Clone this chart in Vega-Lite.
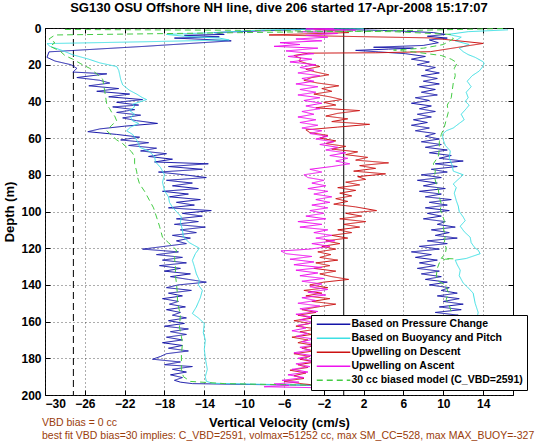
{
"$schema": "https://vega.github.io/schema/vega-lite/v6.json",
"width": 468, "height": 367,
"autosize": {"type": "none"},
"padding": {"left": 45, "top": 28, "right": 47, "bottom": 47},
"background": "white",
"config": {
  "font": "Liberation Sans",
  "view": {"stroke": "black", "strokeWidth": 1},
  "axis": {"labelFont": "Liberation Sans", "labelFontWeight": "bold", "labelFontSize": 12, "labelColor": "black", "titleFont": "Liberation Sans", "titleFontWeight": "bold", "titleFontSize": 13, "titleColor": "black", "tickColor": "black", "domain": false, "labelOverlap": false}
},
"resolve": {"axis": {"x": "independent", "y": "independent"}},
"title": {"text": "SG130 OSU Offshore NH line, dive 206 started 17-Apr-2008 15:17:07", "font": "Liberation Sans", "fontSize": 13, "fontWeight": "bold", "color": "black", "anchor": "middle", "offset": 7},
"datasets": {"v": [
{"s":"P","d":0.5,"x":-3},{"s":"P","d":1.5,"x":-8},{"s":"P","d":2.5,"x":-13},{"s":"P","d":3.5,"x":-12},{"s":"P","d":4,"x":-16},{"s":"P","d":4.8,"x":-12.5},{"s":"P","d":5.5,"x":-17},{"s":"P","d":6.2,"x":-14},{"s":"P","d":7,"x":-11.3},{"s":"P","d":10,"x":-20},{"s":"P","d":13,"x":-29.6},{"s":"P","d":16,"x":-29.8},{"s":"P","d":18,"x":-29},{"s":"P","d":20,"x":-27.4},{"s":"P","d":22,"x":-26.8},{"s":"P","d":24,"x":-27.2},{"s":"P","d":25,"x":-23.8},{"s":"P","d":27,"x":-26.8},{"s":"P","d":28.5,"x":-24.5},{"s":"P","d":30,"x":-23.5},{"s":"P","d":31.5,"x":-25.6},{"s":"P","d":33,"x":-22.6},{"s":"P","d":34.5,"x":-24.8},{"s":"P","d":36,"x":-21.5},{"s":"P","d":37.5,"x":-23.6},{"s":"P","d":39,"x":-20.2},{"s":"P","d":40.5,"x":-22.8},{"s":"P","d":42,"x":-20.6},{"s":"P","d":43,"x":-23.2},{"s":"P","d":44.5,"x":-21},{"s":"P","d":46,"x":-22.8},{"s":"P","d":47.5,"x":-20.4},{"s":"P","d":49,"x":-22.2},{"s":"P","d":50.5,"x":-20.8},{"s":"P","d":52,"x":-18.7},{"s":"P","d":53.5,"x":-22},{"s":"P","d":55,"x":-24.5},{"s":"P","d":56.5,"x":-25.7},{"s":"P","d":58,"x":-22.8},{"s":"P","d":59.5,"x":-20.5},{"s":"P","d":61,"x":-22.4},{"s":"P","d":62.5,"x":-19.6},{"s":"P","d":64,"x":-21.6},{"s":"P","d":65.5,"x":-18.8},{"s":"P","d":67,"x":-20.4},{"s":"P","d":68.5,"x":-17.8},{"s":"P","d":70,"x":-19.6},{"s":"P","d":71.5,"x":-17.2},{"s":"P","d":73,"x":-19},{"s":"P","d":74,"x":-13.6},{"s":"P","d":75.5,"x":-17.6},{"s":"P","d":77,"x":-14.2},{"s":"P","d":78.5,"x":-18.6},{"s":"P","d":80,"x":-16},{"s":"P","d":81.5,"x":-13.8},{"s":"P","d":83,"x":-17.8},{"s":"P","d":84.5,"x":-15.2},{"s":"P","d":86,"x":-17.2},{"s":"P","d":87.5,"x":-14.6},{"s":"P","d":89,"x":-18.2},{"s":"P","d":90.5,"x":-15.6},{"s":"P","d":92,"x":-17.5},{"s":"P","d":93.5,"x":-14.4},{"s":"P","d":95,"x":-16.8},{"s":"P","d":96.5,"x":-15},{"s":"P","d":98,"x":-17.6},{"s":"P","d":99.5,"x":-13.3},{"s":"P","d":101,"x":-16.2},{"s":"P","d":102.5,"x":-14.2},{"s":"P","d":104,"x":-16.8},{"s":"P","d":105.5,"x":-14.6},{"s":"P","d":107,"x":-17},{"s":"P","d":108.5,"x":-13.9},{"s":"P","d":110,"x":-16.4},{"s":"P","d":111.5,"x":-14.8},{"s":"P","d":113,"x":-17.2},{"s":"P","d":114.5,"x":-15.4},{"s":"P","d":116,"x":-16.8},{"s":"P","d":117.5,"x":-15.8},{"s":"P","d":119,"x":-18},{"s":"P","d":120.5,"x":-20.2},{"s":"P","d":122,"x":-16.6},{"s":"P","d":123.5,"x":-18.8},{"s":"P","d":125,"x":-16.2},{"s":"P","d":126.5,"x":-18.2},{"s":"P","d":128,"x":-15.8},{"s":"P","d":129.5,"x":-18.5},{"s":"P","d":131,"x":-16.4},{"s":"P","d":132.5,"x":-18},{"s":"P","d":134,"x":-15.4},{"s":"P","d":135.5,"x":-17.4},{"s":"P","d":137,"x":-15.6},{"s":"P","d":138.5,"x":-13.8},{"s":"P","d":140,"x":-16.6},{"s":"P","d":141.5,"x":-17.8},{"s":"P","d":143,"x":-15.3},{"s":"P","d":144.5,"x":-17.6},{"s":"P","d":146,"x":-16.2},{"s":"P","d":147.5,"x":-18.2},{"s":"P","d":149,"x":-16.6},{"s":"P","d":150.5,"x":-17.5},{"s":"P","d":152,"x":-15.9},{"s":"P","d":153.5,"x":-17.8},{"s":"P","d":155,"x":-16.4},{"s":"P","d":156.5,"x":-17.2},{"s":"P","d":158,"x":-15.8},{"s":"P","d":159.5,"x":-17.6},{"s":"P","d":161,"x":-16},{"s":"P","d":162.5,"x":-18},{"s":"P","d":164,"x":-15.6},{"s":"P","d":165.5,"x":-17.4},{"s":"P","d":167,"x":-15.8},{"s":"P","d":168.5,"x":-17.8},{"s":"P","d":170,"x":-16.2},{"s":"P","d":171.5,"x":-18.2},{"s":"P","d":173,"x":-16.2},{"s":"P","d":174.5,"x":-17.6},{"s":"P","d":176,"x":-15.6},{"s":"P","d":177.5,"x":-17.8},{"s":"P","d":179,"x":-18.4},{"s":"P","d":180.5,"x":-19.2},{"s":"P","d":182,"x":-16.4},{"s":"P","d":183.5,"x":-18},{"s":"P","d":184.5,"x":-15.2},{"s":"P","d":186,"x":-17.2},{"s":"P","d":187.5,"x":-15.8},{"s":"P","d":189,"x":-17.4},{"s":"P","d":190.5,"x":-16.2},{"s":"P","d":192,"x":-17},{"s":"P","d":193,"x":-16.4},{"s":"P","d":193.8,"x":-15.2},{"s":"P","d":194.3,"x":-9},{"s":"P","d":194.6,"x":-4},{"s":"P","d":195,"x":0},
{"s":"P","d":194,"x":6},{"s":"P","d":192,"x":9.5},{"s":"P","d":185,"x":10},{"s":"P","d":175,"x":9.8},{"s":"P","d":165,"x":10.2},{"s":"P","d":158,"x":9.6},{"s":"P","d":156.5,"x":11.5},{"s":"P","d":155,"x":9.2},{"s":"P","d":153.5,"x":11.8},{"s":"P","d":152,"x":9.6},{"s":"P","d":150.5,"x":12},{"s":"P","d":149,"x":10},{"s":"P","d":147.5,"x":11.6},{"s":"P","d":146,"x":9.4},{"s":"P","d":144.5,"x":11.4},{"s":"P","d":143,"x":9.8},{"s":"P","d":141.5,"x":10.6},{"s":"P","d":140,"x":8.6},{"s":"P","d":138.5,"x":10.4},{"s":"P","d":137,"x":8.2},{"s":"P","d":135.5,"x":9.8},{"s":"P","d":134,"x":7.8},{"s":"P","d":132.5,"x":9.6},{"s":"P","d":131,"x":7.4},{"s":"P","d":129.5,"x":9.2},{"s":"P","d":128,"x":7.6},{"s":"P","d":126.5,"x":9.4},{"s":"P","d":125,"x":7.2},{"s":"P","d":123.5,"x":8.8},{"s":"P","d":122,"x":6.8},{"s":"P","d":120.5,"x":9.6},{"s":"P","d":119,"x":7.6},{"s":"P","d":117.5,"x":10.4},{"s":"P","d":116,"x":8.4},{"s":"P","d":114.5,"x":11.4},{"s":"P","d":113,"x":9.2},{"s":"P","d":111.5,"x":10.6},{"s":"P","d":110,"x":8.8},{"s":"P","d":108.5,"x":11.2},{"s":"P","d":107,"x":9.4},{"s":"P","d":105.5,"x":10.2},{"s":"P","d":104,"x":8},{"s":"P","d":102.5,"x":9.8},{"s":"P","d":101,"x":8.4},{"s":"P","d":99.5,"x":10.6},{"s":"P","d":98,"x":8.2},{"s":"P","d":96.5,"x":10.4},{"s":"P","d":95,"x":8.6},{"s":"P","d":93.5,"x":10.8},{"s":"P","d":92,"x":8.2},{"s":"P","d":90.5,"x":9.8},{"s":"P","d":89,"x":7.6},{"s":"P","d":87.5,"x":10.2},{"s":"P","d":86,"x":8},{"s":"P","d":84.5,"x":9.4},{"s":"P","d":83,"x":7.4},{"s":"P","d":81.5,"x":9.8},{"s":"P","d":80,"x":7.8},{"s":"P","d":78.5,"x":10.4},{"s":"P","d":77,"x":8.8},{"s":"P","d":75.5,"x":11.4},{"s":"P","d":74,"x":9.2},{"s":"P","d":72.5,"x":12},{"s":"P","d":71,"x":9.6},{"s":"P","d":69.5,"x":10.8},{"s":"P","d":68,"x":8.6},{"s":"P","d":66.5,"x":10.4},{"s":"P","d":65,"x":8.2},{"s":"P","d":63.5,"x":9.8},{"s":"P","d":62,"x":7.8},{"s":"P","d":60.5,"x":9.6},{"s":"P","d":59,"x":8.2},{"s":"P","d":57.5,"x":9.2},{"s":"P","d":56,"x":7.2},{"s":"P","d":54.5,"x":8.6},{"s":"P","d":53,"x":6.8},{"s":"P","d":51.5,"x":8.4},{"s":"P","d":50,"x":7},{"s":"P","d":48.5,"x":8.8},{"s":"P","d":47,"x":7.4},{"s":"P","d":45.5,"x":9.2},{"s":"P","d":44,"x":7.6},{"s":"P","d":42.5,"x":8.8},{"s":"P","d":41,"x":6.8},{"s":"P","d":39.5,"x":8.6},{"s":"P","d":38,"x":7.2},{"s":"P","d":36.5,"x":9.4},{"s":"P","d":35,"x":7.8},{"s":"P","d":33.5,"x":9.2},{"s":"P","d":32,"x":7.6},{"s":"P","d":30.5,"x":9.6},{"s":"P","d":29,"x":8},{"s":"P","d":27.5,"x":9.4},{"s":"P","d":26,"x":7.8},{"s":"P","d":24.5,"x":9.6},{"s":"P","d":23,"x":8.2},{"s":"P","d":21.5,"x":9.2},{"s":"P","d":20,"x":7.4},{"s":"P","d":18.5,"x":8.6},{"s":"P","d":17,"x":6.8},{"s":"P","d":15.5,"x":8.2},{"s":"P","d":14,"x":6.2},{"s":"P","d":13,"x":3.5},{"s":"P","d":12.2,"x":1.2},{"s":"P","d":11.5,"x":4.5},{"s":"P","d":11,"x":7},{"s":"P","d":10.5,"x":3},{"s":"P","d":9.5,"x":8},{"s":"P","d":8,"x":9.5},{"s":"P","d":6.5,"x":8.6},{"s":"P","d":5.5,"x":10.4},{"s":"P","d":4.5,"x":8.4},{"s":"P","d":3.5,"x":10.2},{"s":"P","d":2.5,"x":9},{"s":"P","d":1.5,"x":5},{"s":"P","d":0.8,"x":0},{"s":"P","d":0.3,"x":-3},
{"s":"B","d":0.3,"x":2},{"s":"B","d":1,"x":-8},{"s":"B","d":2.5,"x":-13},{"s":"B","d":3.5,"x":-17.8},{"s":"B","d":4.5,"x":-16},{"s":"B","d":5.5,"x":-12.5},{"s":"B","d":6.5,"x":-11.5},{"s":"B","d":7.5,"x":-20},{"s":"B","d":8.5,"x":-29.8},{"s":"B","d":10,"x":-29.5},{"s":"B","d":12,"x":-28.4},{"s":"B","d":14.6,"x":-27.2},{"s":"B","d":17,"x":-25.6},{"s":"B","d":19,"x":-24.5},{"s":"B","d":21,"x":-22.8},{"s":"B","d":23,"x":-22.6},{"s":"B","d":25.4,"x":-22.5},{"s":"B","d":28,"x":-22.4},{"s":"B","d":31,"x":-22.2},{"s":"B","d":34,"x":-21.5},{"s":"B","d":36,"x":-20.8},{"s":"B","d":38,"x":-20.2},{"s":"B","d":39,"x":-19.8},{"s":"B","d":40.5,"x":-20.6},{"s":"B","d":41.6,"x":-21.2},{"s":"B","d":43,"x":-21},{"s":"B","d":45,"x":-21.5},{"s":"B","d":47,"x":-21},{"s":"B","d":48.5,"x":-21.4},{"s":"B","d":50.6,"x":-21.2},{"s":"B","d":52,"x":-20.6},{"s":"B","d":54,"x":-21.4},{"s":"B","d":56,"x":-21.8},{"s":"B","d":58,"x":-21.2},{"s":"B","d":61,"x":-20.8},{"s":"B","d":63,"x":-20.6},{"s":"B","d":65,"x":-20.5},{"s":"B","d":67,"x":-19.6},{"s":"B","d":70,"x":-19},{"s":"B","d":73,"x":-18.9},{"s":"B","d":76,"x":-18.4},{"s":"B","d":80,"x":-18},{"s":"B","d":84,"x":-18.2},{"s":"B","d":88.7,"x":-18},{"s":"B","d":92,"x":-17.6},{"s":"B","d":95,"x":-17.5},{"s":"B","d":97.7,"x":-17.2},{"s":"B","d":100,"x":-16.8},{"s":"B","d":103,"x":-16.3},{"s":"B","d":106,"x":-16.4},{"s":"B","d":110,"x":-16.2},{"s":"B","d":114,"x":-16.1},{"s":"B","d":117,"x":-15.5},{"s":"B","d":120,"x":-14.5},{"s":"B","d":123,"x":-14.9},{"s":"B","d":126.6,"x":-15.2},{"s":"B","d":130,"x":-15},{"s":"B","d":134,"x":-14.8},{"s":"B","d":137.5,"x":-14.5},{"s":"B","d":140,"x":-14.6},{"s":"B","d":143,"x":-14.2},{"s":"B","d":147,"x":-14.4},{"s":"B","d":152,"x":-14.8},{"s":"B","d":155.6,"x":-15.2},{"s":"B","d":158,"x":-14.6},{"s":"B","d":161,"x":-14},{"s":"B","d":166,"x":-14.1},{"s":"B","d":170,"x":-13.9},{"s":"B","d":175,"x":-14},{"s":"B","d":180,"x":-13.9},{"s":"B","d":186,"x":-13.7},{"s":"B","d":190,"x":-13.9},{"s":"B","d":192.5,"x":-13.8},{"s":"B","d":193.6,"x":-13.2},{"s":"B","d":194.2,"x":-8},{"s":"B","d":194.6,"x":-2},{"s":"B","d":195,"x":4},
{"s":"B","d":194,"x":9},{"s":"B","d":192,"x":12.5},{"s":"B","d":185,"x":12.8},{"s":"B","d":175,"x":13.2},{"s":"B","d":165,"x":13},{"s":"B","d":158,"x":13.4},{"s":"B","d":155,"x":13.5},{"s":"B","d":150,"x":13.2},{"s":"B","d":144.5,"x":13},{"s":"B","d":141,"x":12.4},{"s":"B","d":139,"x":12},{"s":"B","d":135,"x":11.6},{"s":"B","d":132,"x":11.7},{"s":"B","d":129,"x":11.4},{"s":"B","d":126.5,"x":11.2},{"s":"B","d":125.6,"x":12.3},{"s":"B","d":123,"x":13.7},{"s":"B","d":121,"x":13.5},{"s":"B","d":120,"x":13.2},{"s":"B","d":117,"x":12.8},{"s":"B","d":114,"x":12.7},{"s":"B","d":111,"x":12.1},{"s":"B","d":108,"x":11.7},{"s":"B","d":105,"x":12.2},{"s":"B","d":103,"x":12},{"s":"B","d":100,"x":11.6},{"s":"B","d":97,"x":11.5},{"s":"B","d":94,"x":11.3},{"s":"B","d":90,"x":11.1},{"s":"B","d":87,"x":11.3},{"s":"B","d":85,"x":11},{"s":"B","d":82,"x":11.6},{"s":"B","d":80,"x":12},{"s":"B","d":78,"x":11},{"s":"B","d":75,"x":10.9},{"s":"B","d":71,"x":10.6},{"s":"B","d":67,"x":10.7},{"s":"B","d":64,"x":10.2},{"s":"B","d":61,"x":10},{"s":"B","d":58,"x":9.9},{"s":"B","d":56,"x":10.3},{"s":"B","d":54.5,"x":11},{"s":"B","d":52,"x":11.6},{"s":"B","d":50,"x":12.1},{"s":"B","d":47,"x":11.8},{"s":"B","d":44,"x":12.3},{"s":"B","d":42,"x":12.6},{"s":"B","d":40,"x":12.2},{"s":"B","d":38,"x":12.5},{"s":"B","d":35,"x":12.3},{"s":"B","d":32,"x":12.8},{"s":"B","d":29,"x":12.4},{"s":"B","d":26,"x":12.9},{"s":"B","d":23.5,"x":13.6},{"s":"B","d":21.5,"x":13.9},{"s":"B","d":19.3,"x":14.1},{"s":"B","d":18.4,"x":14},{"s":"B","d":16,"x":13.2},{"s":"B","d":14.5,"x":12.5},{"s":"B","d":12.9,"x":12},{"s":"B","d":11,"x":11.6},{"s":"B","d":9,"x":12.6},{"s":"B","d":7,"x":11.2},{"s":"B","d":5,"x":11.8},{"s":"B","d":3.5,"x":10.5},{"s":"B","d":2,"x":12.5},{"s":"B","d":1,"x":16.5},
{"s":"D","d":0.5,"x":-3},{"s":"D","d":1.5,"x":-1},{"s":"D","d":2.5,"x":0.5},{"s":"D","d":3.8,"x":-7.5},{"s":"D","d":5.4,"x":8.7},{"s":"D","d":8.4,"x":14},{"s":"D","d":12.9,"x":8.7},{"s":"D","d":13.5,"x":3.2},{"s":"D","d":13.7,"x":-3.5},{"s":"D","d":15,"x":-5},{"s":"D","d":16.5,"x":-4.3},{"s":"D","d":18,"x":-4.5},{"s":"D","d":19.5,"x":-3.6},{"s":"D","d":21,"x":-2.4},{"s":"D","d":22.5,"x":-3.8},{"s":"D","d":24,"x":-2.8},{"s":"D","d":25.5,"x":-1.5},{"s":"D","d":27,"x":-3.2},{"s":"D","d":28.5,"x":-4},{"s":"D","d":30,"x":-2.6},{"s":"D","d":31.5,"x":-0.5},{"s":"D","d":33,"x":-2.2},{"s":"D","d":34.5,"x":-1.2},{"s":"D","d":36,"x":-3},{"s":"D","d":37.5,"x":-1.4},{"s":"D","d":39,"x":-0.2},{"s":"D","d":40.5,"x":-2},{"s":"D","d":42,"x":-0.8},{"s":"D","d":43.5,"x":-2.8},{"s":"D","d":45,"x":1.6},{"s":"D","d":46.5,"x":-0.6},{"s":"D","d":48,"x":-1.8},{"s":"D","d":49.5,"x":0.4},{"s":"D","d":51,"x":-1.2},{"s":"D","d":52.5,"x":2.6},{"s":"D","d":54,"x":-0.6},{"s":"D","d":55.5,"x":-3.8},{"s":"D","d":57,"x":-3.4},{"s":"D","d":58.5,"x":-1.6},{"s":"D","d":60,"x":-2.4},{"s":"D","d":61.5,"x":-0.8},{"s":"D","d":63,"x":-1.8},{"s":"D","d":64.5,"x":0.2},{"s":"D","d":66,"x":-1.2},{"s":"D","d":67.5,"x":1.4},{"s":"D","d":69,"x":0.2},{"s":"D","d":70.5,"x":2.4},{"s":"D","d":72,"x":1.2},{"s":"D","d":73.5,"x":4.5},{"s":"D","d":75,"x":1.6},{"s":"D","d":76.5,"x":3.2},{"s":"D","d":78,"x":1},{"s":"D","d":79.5,"x":4.2},{"s":"D","d":81,"x":1.4},{"s":"D","d":82.5,"x":2.2},{"s":"D","d":84,"x":0.2},{"s":"D","d":85.5,"x":1.6},{"s":"D","d":87,"x":-0.6},{"s":"D","d":88.5,"x":1.2},{"s":"D","d":90,"x":-0.4},{"s":"D","d":91.5,"x":0.8},{"s":"D","d":93,"x":-0.8},{"s":"D","d":94.5,"x":0.4},{"s":"D","d":96,"x":-1},{"s":"D","d":97.5,"x":1.2},{"s":"D","d":99.5,"x":3.3},{"s":"D","d":101,"x":0.2},{"s":"D","d":102.5,"x":1.8},{"s":"D","d":104,"x":-0.4},{"s":"D","d":105.5,"x":2.2},{"s":"D","d":107,"x":0},{"s":"D","d":108.5,"x":1.6},{"s":"D","d":110,"x":-0.6},{"s":"D","d":111.5,"x":0.8},{"s":"D","d":113,"x":-1.2},{"s":"D","d":114.5,"x":0.4},{"s":"D","d":116,"x":-1.8},{"s":"D","d":117.5,"x":-0.4},{"s":"D","d":119,"x":-2.2},{"s":"D","d":120.5,"x":-0.8},{"s":"D","d":122,"x":-2.6},{"s":"D","d":123.5,"x":-1.3},{"s":"D","d":125,"x":-2.4},{"s":"D","d":126.5,"x":-0.6},{"s":"D","d":128,"x":-2.8},{"s":"D","d":129.5,"x":-1.4},{"s":"D","d":131,"x":-3},{"s":"D","d":132.5,"x":-0.8},{"s":"D","d":134,"x":-2.4},{"s":"D","d":135.5,"x":-1.2},{"s":"D","d":137,"x":0.5},{"s":"D","d":138.5,"x":-2},{"s":"D","d":140,"x":-3.4},{"s":"D","d":141.5,"x":-1.6},{"s":"D","d":143,"x":-4},{"s":"D","d":144.5,"x":-2.2},{"s":"D","d":146,"x":-3.8},{"s":"D","d":147.5,"x":-1.4},{"s":"D","d":149,"x":-3.2},{"s":"D","d":150.5,"x":-0.8},{"s":"D","d":152,"x":-2.6},{"s":"D","d":153.5,"x":-4.2},{"s":"D","d":155,"x":-2.8},{"s":"D","d":156.5,"x":-4.6},{"s":"D","d":158,"x":-3},{"s":"D","d":159.5,"x":-5},{"s":"D","d":161,"x":-3.4},{"s":"D","d":162.5,"x":-4.8},{"s":"D","d":164,"x":-2.6},{"s":"D","d":165.5,"x":-4.4},{"s":"D","d":167,"x":-3.2},{"s":"D","d":168.5,"x":-5.2},{"s":"D","d":170,"x":-3.6},{"s":"D","d":171.5,"x":-4.6},{"s":"D","d":173,"x":-2.8},{"s":"D","d":174.5,"x":-4.2},{"s":"D","d":176,"x":-3},{"s":"D","d":177.5,"x":-5},{"s":"D","d":179,"x":-3.4},{"s":"D","d":180.5,"x":-4.4},{"s":"D","d":182,"x":-2.8},{"s":"D","d":183.5,"x":-4.6},{"s":"D","d":185,"x":-3.6},{"s":"D","d":186.5,"x":-5.4},{"s":"D","d":188,"x":-3.8},{"s":"D","d":189.5,"x":-5},{"s":"D","d":191,"x":-4},{"s":"D","d":192.5,"x":-6},{"s":"D","d":194,"x":-4},{"s":"D","d":195,"x":-2},
{"s":"A","d":196,"x":-3},{"s":"A","d":195.5,"x":-8},{"s":"A","d":194.8,"x":-5.5},{"s":"A","d":194,"x":-7},{"s":"A","d":193,"x":-4.5},{"s":"A","d":192,"x":-6.2},{"s":"A","d":190.5,"x":-4},{"s":"A","d":189,"x":-5.6},{"s":"A","d":187.5,"x":-3.6},{"s":"A","d":186,"x":-5.2},{"s":"A","d":184.5,"x":-3.4},{"s":"A","d":183,"x":-4.8},{"s":"A","d":181.5,"x":-2.8},{"s":"A","d":180,"x":-4.6},{"s":"A","d":178.5,"x":-3.2},{"s":"A","d":177,"x":-5},{"s":"A","d":175.5,"x":-3.4},{"s":"A","d":174,"x":-4.4},{"s":"A","d":172.5,"x":-2.6},{"s":"A","d":171,"x":-4.2},{"s":"A","d":169.5,"x":-3},{"s":"A","d":168,"x":-4.8},{"s":"A","d":166.5,"x":-3.6},{"s":"A","d":165,"x":-5.2},{"s":"A","d":163.5,"x":-3.8},{"s":"A","d":162,"x":-4.6},{"s":"A","d":160.5,"x":-2.8},{"s":"A","d":159,"x":-4.4},{"s":"A","d":157.5,"x":-3.2},{"s":"A","d":156,"x":-4.8},{"s":"A","d":154.5,"x":-2.6},{"s":"A","d":153,"x":-4.4},{"s":"A","d":151.5,"x":-2.4},{"s":"A","d":150,"x":-4.6},{"s":"A","d":148.5,"x":-2.8},{"s":"A","d":147,"x":-4.2},{"s":"A","d":145.5,"x":-1.8},{"s":"A","d":144,"x":-3.6},{"s":"A","d":142.5,"x":-1.6},{"s":"A","d":141,"x":-3.4},{"s":"A","d":139.5,"x":-2.2},{"s":"A","d":138,"x":-4.2},{"s":"A","d":136.5,"x":-2},{"s":"A","d":135,"x":-4.4},{"s":"A","d":133.5,"x":-2.6},{"s":"A","d":132,"x":-4.8},{"s":"A","d":130.5,"x":-2.2},{"s":"A","d":129,"x":-5},{"s":"A","d":127.5,"x":-3},{"s":"A","d":126,"x":-5.4},{"s":"A","d":124.5,"x":-3.2},{"s":"A","d":123,"x":-5.8},{"s":"A","d":121.5,"x":-6.3},{"s":"A","d":120.5,"x":-3.4},{"s":"A","d":119,"x":-1.4},{"s":"A","d":117.5,"x":-3.2},{"s":"A","d":116,"x":-0.9},{"s":"A","d":114.5,"x":-2.8},{"s":"A","d":113,"x":-1.2},{"s":"A","d":111.5,"x":-3},{"s":"A","d":110,"x":-1.6},{"s":"A","d":108.5,"x":-4.4},{"s":"A","d":107,"x":-2.2},{"s":"A","d":105.5,"x":-4.6},{"s":"A","d":104,"x":-1.8},{"s":"A","d":102.5,"x":-3.8},{"s":"A","d":101,"x":-2},{"s":"A","d":99.5,"x":-3.4},{"s":"A","d":98,"x":-1.6},{"s":"A","d":96.5,"x":-3.2},{"s":"A","d":95,"x":-1.4},{"s":"A","d":93.5,"x":-2.8},{"s":"A","d":92,"x":-1.2},{"s":"A","d":90.5,"x":-3},{"s":"A","d":89,"x":-1.6},{"s":"A","d":87.5,"x":-3.6},{"s":"A","d":86,"x":-1.8},{"s":"A","d":84.5,"x":-3.2},{"s":"A","d":83,"x":-2},{"s":"A","d":81.5,"x":-3.6},{"s":"A","d":80,"x":-4},{"s":"A","d":78.5,"x":-2.2},{"s":"A","d":77,"x":-3.4},{"s":"A","d":75.5,"x":-1.2},{"s":"A","d":74,"x":0.6},{"s":"A","d":72.5,"x":-0.8},{"s":"A","d":71,"x":0.4},{"s":"A","d":69.5,"x":-1.4},{"s":"A","d":68,"x":0.2},{"s":"A","d":66.5,"x":-1.8},{"s":"A","d":65,"x":-0.6},{"s":"A","d":63.5,"x":-2.4},{"s":"A","d":62,"x":-1},{"s":"A","d":60.5,"x":-2.8},{"s":"A","d":59,"x":-1.6},{"s":"A","d":57.5,"x":-3.4},{"s":"A","d":56,"x":-2.2},{"s":"A","d":54.5,"x":-4.2},{"s":"A","d":53,"x":-2.6},{"s":"A","d":51.5,"x":-4.4},{"s":"A","d":50,"x":-2.8},{"s":"A","d":48.5,"x":-4.6},{"s":"A","d":47,"x":-3},{"s":"A","d":45.5,"x":-4.2},{"s":"A","d":44,"x":-2.4},{"s":"A","d":42.5,"x":-3.8},{"s":"A","d":41,"x":-2.2},{"s":"A","d":39.5,"x":-4},{"s":"A","d":38,"x":-2.4},{"s":"A","d":36.5,"x":-4.6},{"s":"A","d":35,"x":-2.8},{"s":"A","d":33.5,"x":-4.4},{"s":"A","d":32,"x":-2.6},{"s":"A","d":30.5,"x":-4.8},{"s":"A","d":29,"x":-3},{"s":"A","d":27.5,"x":-4.2},{"s":"A","d":26,"x":-2.4},{"s":"A","d":24.5,"x":-4.6},{"s":"A","d":23,"x":-3},{"s":"A","d":21.5,"x":-4.4},{"s":"A","d":20,"x":-2.8},{"s":"A","d":18.5,"x":-5.4},{"s":"A","d":17,"x":-3.2},{"s":"A","d":15.5,"x":-5.6},{"s":"A","d":14,"x":-3},{"s":"A","d":12.5,"x":-5.8},{"s":"A","d":11,"x":-2.6},{"s":"A","d":10,"x":-7},{"s":"A","d":9,"x":-4.4},{"s":"A","d":8,"x":-6.4},{"s":"A","d":7,"x":-2.2},{"s":"A","d":6,"x":-4.8},{"s":"A","d":5,"x":-1.6},{"s":"A","d":4,"x":-3.8},{"s":"A","d":3,"x":-0.6},{"s":"A","d":2,"x":-4.6},{"s":"A","d":1.2,"x":1.2},{"s":"A","d":0.5,"x":-3.8},{"s":"A","d":0.2,"x":-1},
{"s":"M","d":0.3,"x":16},{"s":"M","d":1.5,"x":5},{"s":"M","d":2.5,"x":-10},{"s":"M","d":3.8,"x":-29},{"s":"M","d":6,"x":-29.6},{"s":"M","d":8,"x":-29},{"s":"M","d":10,"x":-29.5},{"s":"M","d":12.5,"x":-28.5},{"s":"M","d":15,"x":-28},{"s":"M","d":17,"x":-27.2},{"s":"M","d":19.5,"x":-26.4},{"s":"M","d":22,"x":-25.5},{"s":"M","d":25,"x":-24.8},{"s":"M","d":28,"x":-24.2},{"s":"M","d":31,"x":-24.1},{"s":"M","d":34.6,"x":-24},{"s":"M","d":38,"x":-23.9},{"s":"M","d":41.6,"x":-23.8},{"s":"M","d":44,"x":-23.5},{"s":"M","d":46,"x":-23.3},{"s":"M","d":48,"x":-23},{"s":"M","d":50.6,"x":-22.8},{"s":"M","d":53,"x":-23.3},{"s":"M","d":56,"x":-23.8},{"s":"M","d":58.5,"x":-23.3},{"s":"M","d":61,"x":-22.8},{"s":"M","d":63,"x":-22.2},{"s":"M","d":65,"x":-21.8},{"s":"M","d":67.5,"x":-21.3},{"s":"M","d":70,"x":-21},{"s":"M","d":74,"x":-21},{"s":"M","d":78,"x":-20.8},{"s":"M","d":81.5,"x":-20.7},{"s":"M","d":85,"x":-20.5},{"s":"M","d":89,"x":-20},{"s":"M","d":94,"x":-19.5},{"s":"M","d":98,"x":-19.1},{"s":"M","d":103,"x":-18.8},{"s":"M","d":108,"x":-18.5},{"s":"M","d":114,"x":-18.2},{"s":"M","d":117,"x":-17.6},{"s":"M","d":121,"x":-16.8},{"s":"M","d":125,"x":-17},{"s":"M","d":130,"x":-16.9},{"s":"M","d":135,"x":-16.9},{"s":"M","d":139,"x":-16.8},{"s":"M","d":145,"x":-16.7},{"s":"M","d":150,"x":-16.7},{"s":"M","d":156,"x":-16.4},{"s":"M","d":163,"x":-16.5},{"s":"M","d":168,"x":-16.3},{"s":"M","d":172,"x":-16.2},{"s":"M","d":178,"x":-16.3},{"s":"M","d":186,"x":-16.3},{"s":"M","d":190,"x":-16.1},{"s":"M","d":192.6,"x":-15.4},{"s":"M","d":193.8,"x":-12},{"s":"M","d":194.5,"x":-5},{"s":"M","d":195,"x":3},
{"s":"M","d":194,"x":8},{"s":"M","d":192,"x":10.6},{"s":"M","d":185,"x":10.8},{"s":"M","d":175,"x":10.6},{"s":"M","d":165,"x":10.8},{"s":"M","d":160,"x":10.5},{"s":"M","d":155,"x":10.8},{"s":"M","d":151,"x":10.6},{"s":"M","d":148,"x":10.3},{"s":"M","d":144,"x":10.5},{"s":"M","d":140,"x":10.2},{"s":"M","d":138,"x":9.5},{"s":"M","d":135,"x":9.3},{"s":"M","d":131,"x":9.4},{"s":"M","d":128,"x":9.6},{"s":"M","d":126,"x":10.2},{"s":"M","d":125.8,"x":11},{"s":"M","d":125.5,"x":9.8},{"s":"M","d":123,"x":10.2},{"s":"M","d":120,"x":10.3},{"s":"M","d":117,"x":10.1},{"s":"M","d":113,"x":10.2},{"s":"M","d":109,"x":10},{"s":"M","d":105,"x":10.1},{"s":"M","d":102,"x":9.9},{"s":"M","d":99,"x":9.7},{"s":"M","d":96,"x":9.8},{"s":"M","d":92,"x":9.6},{"s":"M","d":88,"x":9.5},{"s":"M","d":85,"x":9.3},{"s":"M","d":81,"x":9.1},{"s":"M","d":78,"x":9.2},{"s":"M","d":74,"x":9},{"s":"M","d":70,"x":9.5},{"s":"M","d":66,"x":9.6},{"s":"M","d":62,"x":9.6},{"s":"M","d":58,"x":9.8},{"s":"M","d":54,"x":10.1},{"s":"M","d":50,"x":10.3},{"s":"M","d":46,"x":10.5},{"s":"M","d":42,"x":10.4},{"s":"M","d":38,"x":10.8},{"s":"M","d":34,"x":10.9},{"s":"M","d":30,"x":11},{"s":"M","d":26,"x":11.2},{"s":"M","d":22,"x":11.1},{"s":"M","d":19,"x":11.4},{"s":"M","d":17,"x":10.8},{"s":"M","d":15,"x":9.8},{"s":"M","d":13,"x":7},{"s":"M","d":12,"x":5},{"s":"M","d":11,"x":8},{"s":"M","d":9,"x":10},{"s":"M","d":6,"x":11},{"s":"M","d":3.5,"x":10.8},{"s":"M","d":2,"x":5},{"s":"M","d":1.2,"x":-12},{"s":"M","d":0.8,"x":-28}
]},
"layer": [
  {
    "data": {"values": [{}]},
    "mark": {"type": "rule", "color": "black", "strokeWidth": 1, "strokeDash": [7, 4]},
    "encoding": {"x": {"datum": -27.15, "type": "quantitative", "axis": null}}
  },
  {
    "data": {"values": [{}]},
    "mark": {"type": "rule", "color": "black", "strokeWidth": 1},
    "encoding": {"x": {"datum": 0, "type": "quantitative", "axis": null}}
  },
  {
    "data": {"name": "v"},
    "mark": {"type": "line", "strokeWidth": 1, "clip": true},
    "encoding": {
      "x": {"field": "x", "type": "quantitative",
        "scale": {"domain": [-30, 17], "nice": false, "zero": false},
        "axis": {"orient": "bottom", "values": [-30,-26,-22,-18,-14,-10,-6,-2,2,6,10,14], "title": "Vertical Velocity (cm/s)", "tickSize": -5, "labelPadding": 8, "titlePadding": 7, "grid": true, "gridDash": [1, 3], "gridColor": "#333333", "gridOpacity": 0.8}},
      "y": {"field": "d", "type": "quantitative",
        "scale": {"domain": [0, 200], "nice": false, "zero": false, "reverse": true},
        "axis": {"orient": "left", "values": [0,20,40,60,80,100,120,140,160,180,200], "title": "Depth (m)", "tickSize": -5, "labelPadding": 9, "titlePadding": 4, "grid": true, "gridDash": [1, 3], "gridColor": "#333333", "gridOpacity": 0.8}},
      "color": {"field": "s", "type": "nominal",
        "scale": {"domain": ["P", "B", "D", "A", "M"], "range": ["#1414a8", "#3ee0e4", "#cc1111", "#ee11ee", "#44cc44"]},
        "legend": {"title": null, "orient": "none", "legendX": 266, "legendY": 287, "direction": "vertical",
          "labelExpr": "{'P':'Based on Pressure Change','B':'Based on Buoyancy and Pitch','D':'Upwelling on Descent','A':'Upwelling on Ascent','M':'30 cc biased model (C_VBD=2591)'}[datum.label]",
          "symbolType": "M-1,0H8.6", "symbolSize": 49, "symbolStrokeWidth": 1.5,
          "labelFont": "Liberation Sans", "labelFontWeight": "bold", "labelFontSize": 10.5, "labelColor": "black", "labelLimit": 300,
          "strokeColor": "black", "fillColor": "white", "padding": 4, "rowPadding": 3, "labelOffset": 26}},
      "strokeDash": {"field": "s", "type": "nominal",
        "scale": {"domain": ["P", "B", "D", "A", "M"], "range": [[1, 0], [1, 0], [1, 0], [1, 0], [6, 4]]}},
      "order": {"value": null}
    }
  },
  {
    "data": {"values": [{}]},
    "mark": {"type": "point", "opacity": 0},
    "encoding": {
      "x": {"datum": 0, "type": "quantitative", "axis": {"orient": "top", "labels": false, "title": null, "grid": false, "tickSize": -5, "values": [-30,-26,-22,-18,-14,-10,-6,-2,2,6,10,14]}},
      "y": {"datum": 0, "type": "quantitative", "axis": {"orient": "right", "labels": false, "title": null, "grid": false, "tickSize": -5, "values": [0,20,40,60,80,100,120,140,160,180,200]}}
    }
  },
  {
    "data": {"values": [{}]},
    "mark": {"type": "text", "text": "VBD bias = 0 cc", "align": "left", "baseline": "middle", "font": "Liberation Sans", "fontSize": 10.5, "color": "#9a3d0c"},
    "encoding": {"x": {"datum": -30.3, "type": "quantitative", "axis": null}, "y": {"datum": 215.3, "type": "quantitative", "axis": null}}
  },
  {
    "data": {"values": [{}]},
    "mark": {"type": "text", "text": "best fit VBD bias=30 implies: C_VBD=2591, volmax=51252 cc, max SM_CC=528, max MAX_BUOY=-327", "align": "left", "baseline": "middle", "font": "Liberation Sans", "fontSize": 10.5, "color": "#9a3d0c"},
    "encoding": {"x": {"datum": -30.3, "type": "quantitative", "axis": null}, "y": {"datum": 222.5, "type": "quantitative", "axis": null}}
  }
]
}
